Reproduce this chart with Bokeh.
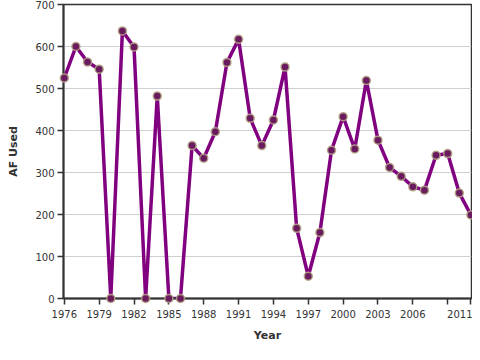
from bokeh.plotting import figure
from bokeh.models import Range1d, FixedTicker
from bokeh.embed import file_html
from bokeh.resources import INLINE

years = list(range(1976, 2012))
af_used = [525, 600, 563, 546, 0, 637, 599, 0, 482, 0, 0, 364, 334, 397,
           562, 617, 429, 364, 425, 551, 167, 53, 157, 353, 433, 356,
           519, 377, 312, 291, 266, 258, 341, 345, 251, 199]
x_ticks = [1976, 1979, 1982, 1985, 1988, 1991, 1994, 1997, 2000, 2003, 2006, 2009, 2011]
y_ticks = [0, 100, 200, 300, 400, 500, 600, 700]

p = figure(width=472, height=344, output_backend="svg", toolbar_location=None,
           x_range=Range1d(1975.93, 2011.05), y_range=Range1d(0, 700),
           min_border_left=63, min_border_right=1, min_border_top=4, min_border_bottom=0)

p.line(years, af_used, line_color="#800080", line_width=3.5)
r = p.scatter(years, af_used, size=8, fill_color="#6a1a5e", line_color="#b0a282",
              line_width=1.5, line_alpha=0.9)
r.level = "overlay"

p.xaxis.ticker = FixedTicker(ticks=x_ticks)
p.xaxis.major_label_overrides = {2009: ""}
p.yaxis.ticker = FixedTicker(ticks=y_ticks)

for ax in (p.xaxis, p.yaxis):
    ax.axis_line_color = "#333333"
    ax.axis_line_width = 2
    ax.major_tick_line_color = "#333333"
    ax.major_tick_line_width = 1.5
    ax.major_tick_out = 6
    ax.major_tick_in = 0
    ax.minor_tick_line_color = None
    ax.major_label_text_font = "DejaVu Sans"
    ax.major_label_text_font_size = "10px"
    ax.major_label_text_color = "#333333"
    ax.axis_label_text_font = "DejaVu Sans"
    ax.axis_label_text_font_size = "11px"
    ax.axis_label_text_font_style = "bold"
    ax.axis_label_text_color = "#333333"

p.xaxis.axis_label = "Year"
p.yaxis.axis_label = "AF Used"
p.xaxis.major_label_standoff = 5
p.xaxis.axis_label_standoff = 8
p.yaxis.major_label_standoff = 3
p.yaxis.axis_label_standoff = 12

p.xgrid.grid_line_color = None
p.ygrid.grid_line_color = "#d0d0d0"
p.ygrid.grid_line_width = 1
p.outline_line_color = "#333333"
p.outline_line_width = 1.5
p.outline_line_alpha = 1

open("out.html", "w").write(file_html(p, INLINE))
